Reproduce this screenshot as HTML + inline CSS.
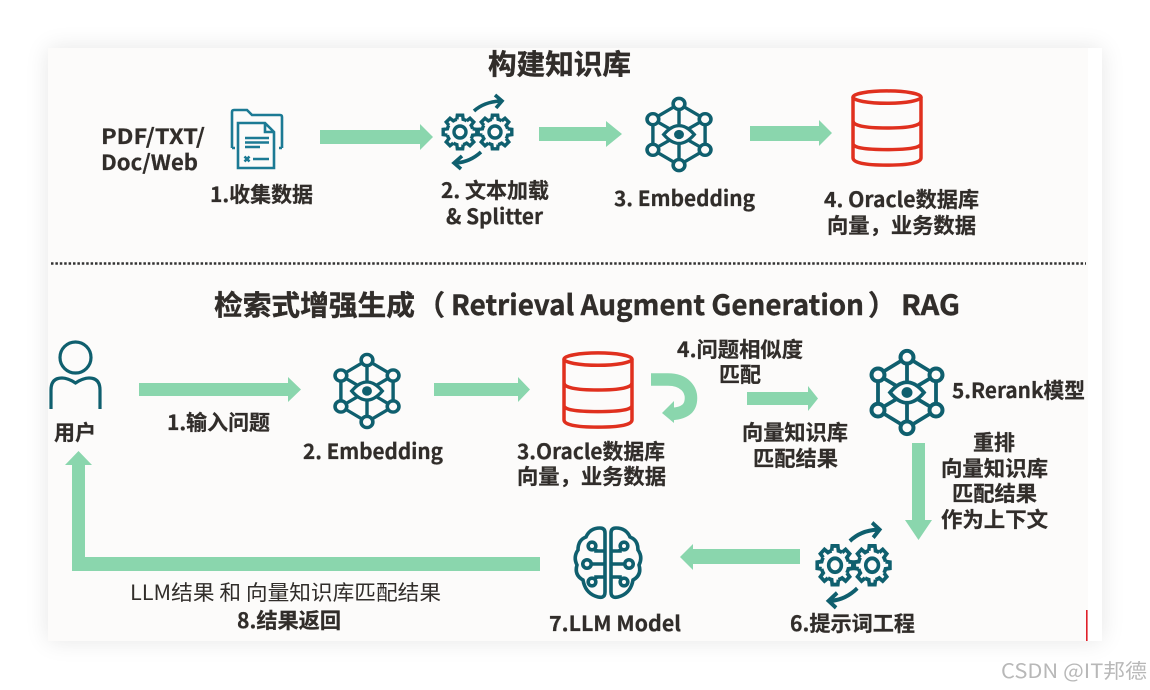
<!DOCTYPE html>
<html><head><meta charset="utf-8">
<style>
html,body{margin:0;padding:0;background:#fff;width:1150px;height:690px;overflow:hidden}
#p{position:absolute;left:48px;top:48px;width:1054px;height:593px;background:#fff;box-shadow:0 0 22px rgba(0,0,0,.10)}
svg{position:absolute;left:0;top:0}
text{font-family:"Noto Sans CJK SC","Liberation Sans",sans-serif;font-weight:700;fill:#312d2a;stroke:#312d2a;stroke-width:.25}
.t{font-size:28px;stroke-width:.4}.l{font-size:21px}
.r{font-weight:400;stroke-width:0}
</style></head><body>
<div id="p"></div>
<svg width="1150" height="690" viewBox="0 0 1150 690" xmlns="http://www.w3.org/2000/svg">
<defs>
<g id="emb" fill="none" stroke="#0f5f6e" stroke-width="3.8">
<path d="M0 -36L-29 -18V18L0 36L29 18V-18ZM0 -36V-12M0 12V36M-29 -18L-11 -7M29 -18L11 -7M-29 18L-11 7M29 18L11 7"/>
<path d="M-17 0Q0 -21 17 0Q0 21 -17 0Z" fill="#fcfbfa"/>
<circle r="5.500" fill="#0f5f6e" stroke="none"/>
<g fill="#fcfbfa" stroke-width="4"><circle cy="-36" r="6.500"/><circle cy="36" r="6.500"/><circle cx="-29" cy="-18" r="6.500"/><circle cx="29" cy="-18" r="6.500"/><circle cx="-29" cy="18" r="6.500"/><circle cx="29" cy="18" r="6.500"/></g>
</g>
<path id="seg" d="M12.6 -3.15L16.8 -2.66V2.66L12.6 3.15A13 13 0 0 1 11.14 6.7"/>
<g id="gear" fill="none" stroke="#0f5f6e" stroke-width="3.400">
<use href="#seg"/><use href="#seg" transform="rotate(45)"/><use href="#seg" transform="rotate(90)"/><use href="#seg" transform="rotate(135)"/><use href="#seg" transform="rotate(180)"/><use href="#seg" transform="rotate(225)"/><use href="#seg" transform="rotate(270)"/><use href="#seg" transform="rotate(315)"/>
<circle r="6"/>
</g>
<g id="gears">
<use href="#gear" x="460" y="132"/><use href="#gear" x="495" y="132"/>
<path d="M474 111Q484 102 500 101M495 95L502 101L496 108M481 152Q470 162 456 163M462 156L454 163L461 169" fill="none" stroke="#0f5f6e" stroke-width="3.600"/>
</g>
<g id="db" fill="none" stroke="#e0301e" stroke-width="3.400">
<ellipse cx="0" cy="-30" rx="33" ry="6"/>
<path d="M-33 -30V29Q-33 36 0 36Q33 36 33 29V-30M-33 -7Q-33 0 0 0Q33 0 33 -7M-33 15Q-33 21 0 21Q33 21 33 15"/>
</g>
<g id="brainL" fill="none" stroke="#0f5f6e" stroke-width="3.600">
<path d="M605 533Q605 528 600 528Q590 528 586 537Q578 540 578 550Q573 557 577 565Q574 575 583 580Q585 592 595 596Q605 600 605 592Z"/>
<path d="M605 551H596V549M605 564H592M605 577H596V579"/>
<circle cx="592" cy="546" r="3.800"/><circle cx="587" cy="564" r="4.200"/><circle cx="592" cy="582" r="3.800"/>
</g>
</defs>

<rect x="48" y="48" width="1040" height="593" fill="#fcfbfa"/>
<line x1="51" y1="263.500" x2="1086" y2="263.500" stroke="#333" stroke-width="2.500" stroke-dasharray="2.500 1.900"/>
<rect x="1086" y="610" width="1.600" height="31" fill="#e0202a"/>

<g fill="#8ad6ad">
<path d="M320 130H420V124L433 137L420 150V144H320Z"/>
<path d="M539 127H606V121L622 134L606 147V141H539Z"/>
<path d="M750 126H819V120L832 133L819 146V141H750Z"/>
<path d="M139 383H288V377L301 389.500L288 402V396H139Z"/>
<path d="M434 383H518V377L530 389.500L518 402V396H434Z"/>
<path d="M747 392H808V386L818 398.500L808 411V405H747Z"/>
<path d="M912 443H925V520H932L918.500 540L905 520H912Z"/>
<path d="M800 549H693V544L680 557L693 570V564H800Z"/>
<path d="M540 557V571H72V465H65L78.500 451L92 465H85V557Z"/>
<path d="M674 401V423L662 413Z"/>
</g>
<path d="M651 379.500H668C685 379.500 691 390 691 398C691 408 685 413 672 414" fill="none" stroke="#8ad6ad" stroke-width="12.500"/>

<g fill="none" stroke="#1c7a94" stroke-width="2.600">
<path d="M232 148V112Q232 110 234 110H247L252 115H280Q282 115 282 117V148M232 148H235M282 148H279"/>
<path d="M238 123H265L274 132V168H238ZM265 123V132H274" fill="#fcfbfa"/>
<path d="M245 138H269M245 142.500H269M245 147H260M253 159H269"/>
<path d="M244.500 156.500L249.500 161.500M249.500 156.500L244.500 161.500"/>
</g>

<use href="#gears"/>
<g transform="translate(679,134.500) scale(.9,.85)"><use href="#emb"/></g>
<g transform="translate(887,128) scale(1.03)"><use href="#db"/></g>

<g fill="none" stroke="#0f5f6e" stroke-width="3.200">
<circle cx="75.500" cy="357.500" r="15.500"/>
<path d="M51 409V390Q51 378 62 378Q68 378 75.500 383Q83 378 89 378Q100 378 100 390V409"/>
</g>

<g transform="translate(367,391) scale(.9,.86)"><use href="#emb"/></g>
<g transform="translate(598,390) scale(1.03)"><use href="#db"/></g>
<g transform="translate(907,392.500) scale(1,.98)"><use href="#emb"/></g>

<use href="#gears" transform="translate(817,525) scale(1.06,1.15) translate(-443,-97)"/>
<use href="#brainL"/>
<use href="#brainL" transform="translate(1216,0) scale(-1,1)"/>

<text class="t" x="488" y="74" textLength="143" lengthAdjust="spacingAndGlyphs">构建知识库</text>
<text class="l" x="101" y="144" textLength="104" lengthAdjust="spacingAndGlyphs">PDF/TXT/</text>
<text class="l" x="101" y="170" textLength="97" lengthAdjust="spacingAndGlyphs">Doc/Web</text>
<text class="l" x="210" y="202" textLength="103" lengthAdjust="spacingAndGlyphs">1.收集数据</text>
<text class="l" x="441" y="198" textLength="108" lengthAdjust="spacingAndGlyphs">2. 文本加载</text>
<text class="l" x="446" y="224" textLength="97" lengthAdjust="spacingAndGlyphs">&amp; Splitter</text>
<text class="l" x="614" y="206" textLength="141" lengthAdjust="spacingAndGlyphs">3. Embedding</text>
<text class="l" x="824" y="207" textLength="155" lengthAdjust="spacingAndGlyphs">4. Oracle数据库</text>
<text class="l" x="827" y="233" textLength="149" lengthAdjust="spacingAndGlyphs">向量，业务数据</text>

<text class="t" x="214" y="315" textLength="201" lengthAdjust="spacingAndGlyphs">检索式增强生成</text>
<text class="t" x="417" y="315">（</text>
<text class="t" x="451" y="315" textLength="413" lengthAdjust="spacingAndGlyphs">Retrieval Augment Generation</text>
<text class="t" x="868" y="315">）</text>
<text class="t" x="901" y="315" textLength="59" lengthAdjust="spacingAndGlyphs">RAG</text>

<text class="l" x="54" y="440" textLength="42" lengthAdjust="spacingAndGlyphs">用户</text>
<text class="l" x="167" y="430" textLength="103" lengthAdjust="spacingAndGlyphs">1.输入问题</text>
<text class="l" x="303" y="459" textLength="140" lengthAdjust="spacingAndGlyphs">2. Embedding</text>
<text class="l" x="517" y="459" textLength="148" lengthAdjust="spacingAndGlyphs">3.Oracle数据库</text>
<text class="l" x="517" y="484" textLength="149" lengthAdjust="spacingAndGlyphs">向量，业务数据</text>
<text class="l" x="677" y="357" textLength="126" lengthAdjust="spacingAndGlyphs">4.问题相似度</text>
<text class="l" x="719" y="382" textLength="42" lengthAdjust="spacingAndGlyphs">匹配</text>
<text class="l" x="742" y="440" textLength="106" lengthAdjust="spacingAndGlyphs">向量知识库</text>
<text class="l" x="753" y="466" textLength="85" lengthAdjust="spacingAndGlyphs">匹配结果</text>
<text class="l" x="952" y="398" textLength="133" lengthAdjust="spacingAndGlyphs">5.Rerank模型</text>
<text class="l" x="973" y="450" textLength="42" lengthAdjust="spacingAndGlyphs">重排</text>
<text class="l" x="941" y="476" textLength="107" lengthAdjust="spacingAndGlyphs">向量知识库</text>
<text class="l" x="952" y="501" textLength="85" lengthAdjust="spacingAndGlyphs">匹配结果</text>
<text class="l" x="941" y="527" textLength="107" lengthAdjust="spacingAndGlyphs">作为上下文</text>
<text class="l r" x="130" y="600" textLength="311" lengthAdjust="spacingAndGlyphs">LLM结果 和 向量知识库匹配结果</text>
<text class="l" x="237" y="628" textLength="104" lengthAdjust="spacingAndGlyphs">8.结果返回</text>
<text class="l" x="549" y="631" textLength="132" lengthAdjust="spacingAndGlyphs">7.LLM Model</text>
<text class="l" x="790" y="631" textLength="125" lengthAdjust="spacingAndGlyphs">6.提示词工程</text>
<text x="1001" y="678" textLength="146" lengthAdjust="spacingAndGlyphs" style="font-weight:400;fill:#b8b8b8;stroke:none;font-size:20px">CSDN @IT邦德</text>
</svg>
</body></html>
